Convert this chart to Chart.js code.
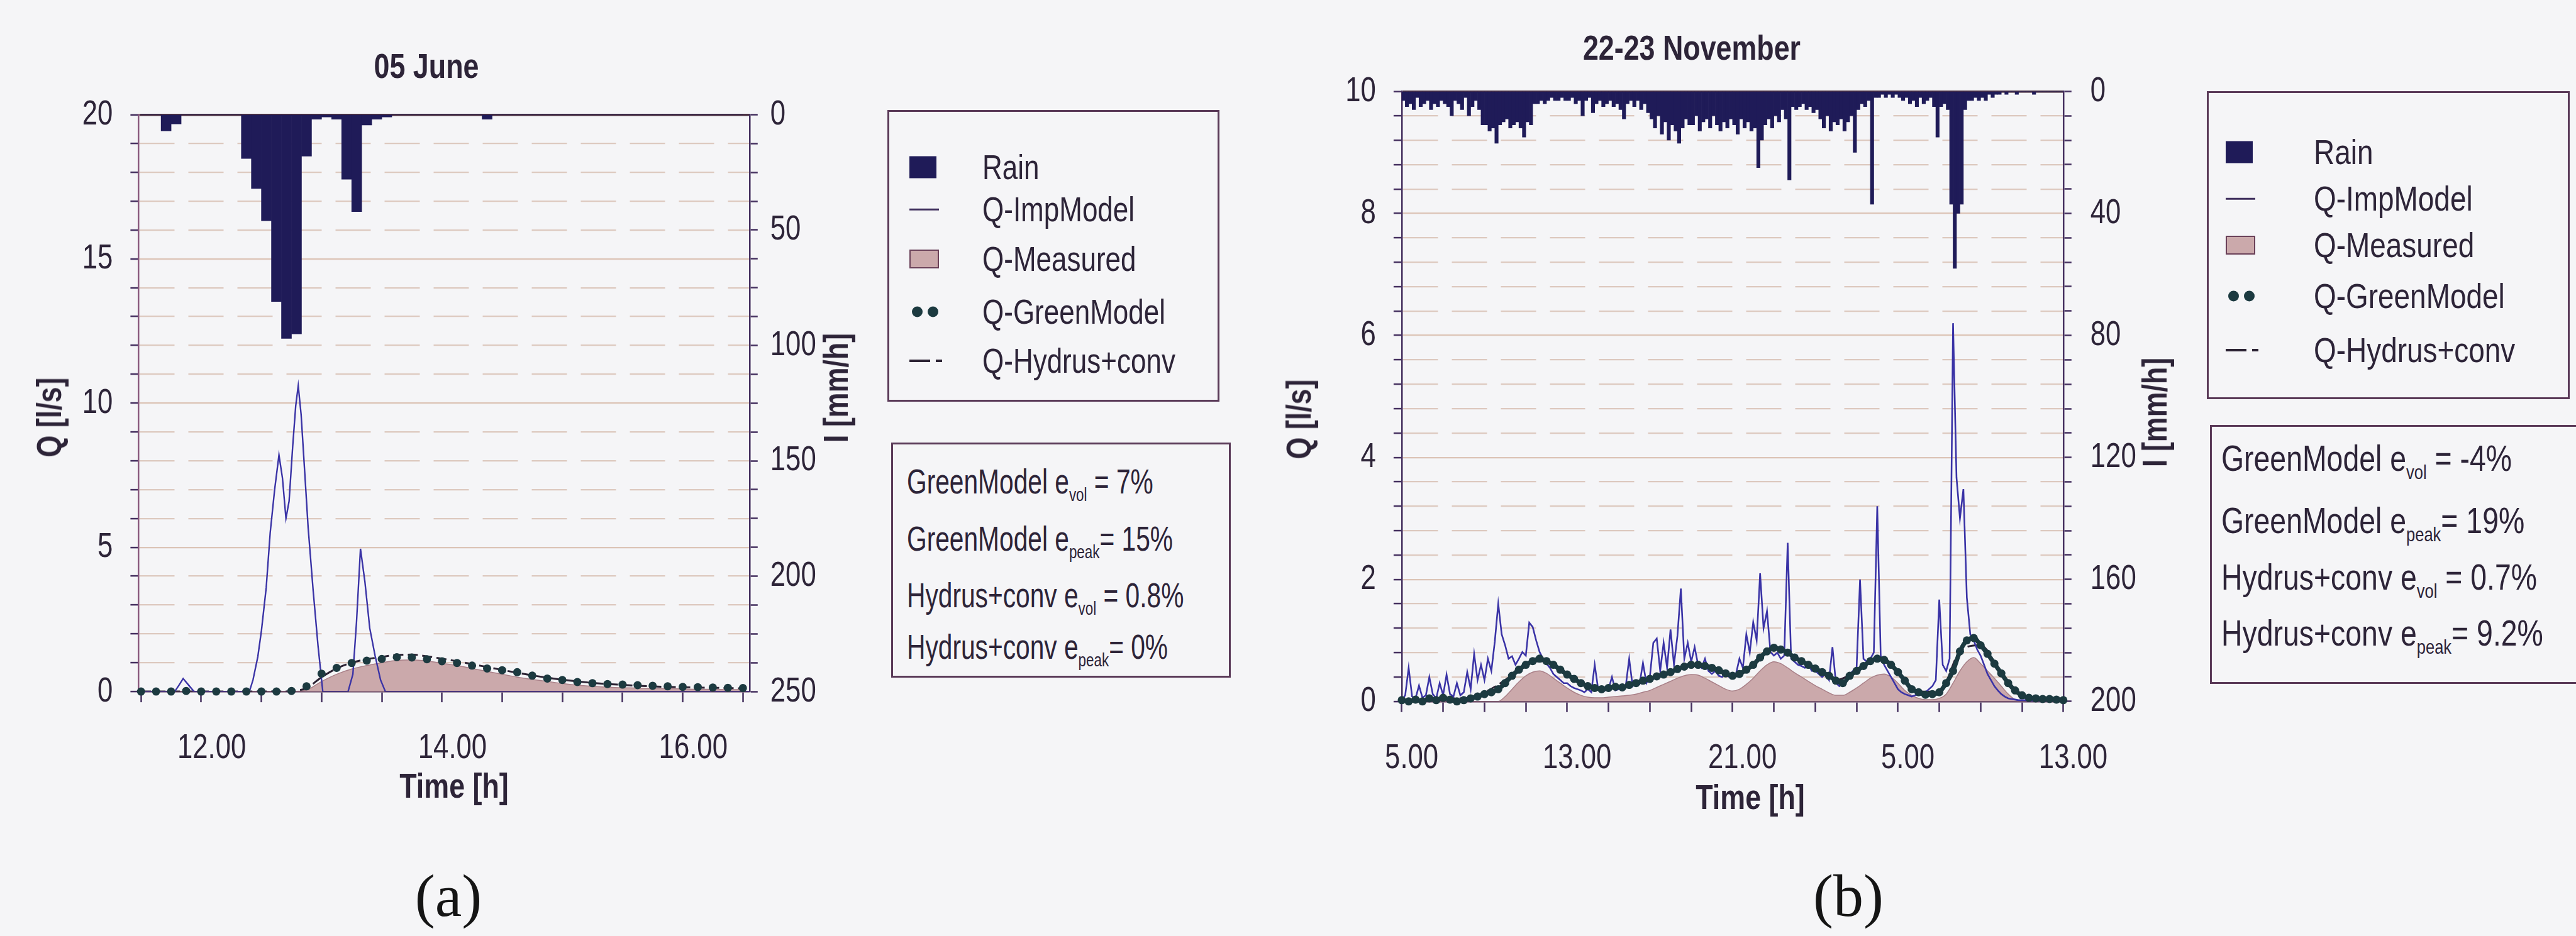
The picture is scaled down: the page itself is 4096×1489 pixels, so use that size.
<!DOCTYPE html>
<html>
<head>
<meta charset="utf-8">
<title>Runoff events</title>
<script src="https://cdn.jsdelivr.net/npm/chart.js@4.4.1/dist/chart.umd.min.js"></script>
<style>
  html, body { margin: 0; padding: 0; }
  body {
    width: 4096px; height: 1489px; background: #f5f5f7; position: relative; overflow: hidden;
    font-family: 'Liberation Sans', Arial, sans-serif; color: #2d2438;
  }
  canvas { position: absolute; top: 0; }
  .lbl { position: absolute; white-space: nowrap; line-height: 1; transform: translate(-50%, -50%) scaleX(0.8); }
  .bold { font-weight: bold; }
  .rot { transform: translate(-50%, -50%) rotate(-90deg) scaleX(0.8); }
  .tag { font-family: 'Liberation Serif', 'Times New Roman', serif; font-size: 96px; color: #151515;
         transform: translate(-50%, -50%); }
  .box { position: absolute; border: 3.5px solid #5a3a58; box-sizing: border-box; }
  .row { position: absolute; white-space: nowrap; line-height: 1; transform-origin: 0 50%; }
  .sw { position: absolute; transform: translateY(-50%); }
  sub { font-size: 55%; vertical-align: -0.4em; line-height: 0; }
</style>
</head>
<body>
<canvas id="chartA" width="1400" height="1330" style="left:0px"></canvas>
<canvas id="chartB" width="1420" height="1330" style="left:2000px"></canvas>
<script>
// ---------- panel (a): 05 June ----------
// rain intensity [mm/h], 5-min intervals starting 11:30
const rainStartA = 11.5;
const rainA = [
  0, 0, 7, 4, 0, 0,
  0, 0, 0, 0, 19, 32, 46, 81, 97, 95, 18, 2,
  1, 2, 28, 42, 4.5, 2, 1, 0, 0, 0, 0, 0,
  0, 0, 0, 0, 2, 0, 0, 0, 0, 0, 0, 0,
  0, 0, 0, 0, 0, 0, 0, 0, 0, 0, 0, 0,
  0, 0, 0, 0, 0, 0
];
// flows [l/s], 7.5-min samples starting 11:30
const flowStartA = 11.5;
const greenA = [
  0, 0, 0, 0.02, 0, 0, 0, 0, 0, 0, 0.02, 0.18,
  0.62, 0.82, 0.99, 1.07, 1.13, 1.19, 1.18, 1.12,
  1.05, 0.99, 0.9, 0.8, 0.74, 0.67, 0.55, 0.45,
  0.4, 0.33, 0.29, 0.26, 0.24, 0.22, 0.2, 0.18,
  0.16, 0.15, 0.14, 0.13, 0.12
];
const measuredA = [
  0, 0, 0, 0, 0, 0, 0, 0, 0, 0, 0, 0.05,
  0.35, 0.6, 0.78, 0.9, 1.0, 1.08, 1.1, 1.06,
  0.98, 0.9, 0.8, 0.7, 0.6, 0.5, 0.42, 0.35,
  0.28, 0.22, 0.18, 0.15, 0.13, 0.12, 0.1, 0.1,
  0.09, 0.08, 0.08, 0.07, 0.07
];
const hydrusA = [
  0, 0, 0, 0, 0, 0, 0, 0, 0, 0, 0.02, 0.12,
  0.5, 0.8, 1.0, 1.12, 1.2, 1.27, 1.28, 1.22,
  1.14, 1.05, 0.95, 0.85, 0.75, 0.65, 0.56, 0.48,
  0.41, 0.35, 0.3, 0.26, 0.23, 0.2, 0.18, 0.16,
  0.15, 0.14, 0.13, 0.12, 0.11
];
// impervious model, irregular time steps [h]
const impTimeA = [11.48, 11.78, 11.82, 11.85, 11.89, 11.94, 12.40, 12.43, 12.47, 12.50,
  12.54, 12.573, 12.61, 12.646, 12.675, 12.704, 12.73, 12.76, 12.785, 12.806, 12.83, 12.86,
  12.888, 12.93, 12.97, 13.01, 13.22, 13.26, 13.29, 13.323, 13.36, 13.40, 13.444, 13.49, 13.53, 16.555];
const impA = [0, 0, 0.25, 0.45, 0.25, 0, 0, 0.4, 1.2, 2.1,
  3.6, 5.5, 7.0, 8.2, 7.4, 6.0, 6.6, 8.5, 9.9, 10.6, 9.6, 7.6,
  5.7, 3.5, 1.6, 0, 0, 0.6, 2.4, 4.95, 3.8, 2.2, 1.25, 0.4, 0, 0];
const xTicksA = [11.5, 12, 12.5, 13, 13.5, 14, 14.5, 15, 15.5, 16, 16.5];
const xLabelsA = ['', '12.00', '', '', '', '14.00', '', '', '', '16.00', ''];
const qLabelsA = [0, 5, 10, 15, 20];
const iLabelsA = [0, 50, 100, 150, 200, 250];

// ---------- panel (b): 22-23 November (hours counted from 00:00 on the 22nd) ----------
// rain intensity [mm/h], 10-min intervals starting 05:00
const rainStartB = 5;
const rainB = [
  3, 5, 4, 6, 2, 5, 4, 3, 6, 4, 5, 3,
  4, 5, 8, 3, 4, 6, 2, 8, 5, 3, 6, 11,
  11, 13, 12, 17, 11, 10, 9, 12, 11, 10, 12, 15,
  10, 11, 4, 4, 3, 4, 3, 2, 3, 3, 2, 3,
  3, 2, 4, 3, 8, 3, 2, 7, 4, 3, 5, 4,
  3, 5, 4, 6, 9, 4, 3, 5, 3, 6, 4, 7,
  9, 12, 8, 14, 10, 16, 11, 13, 17, 12, 9, 11,
  11, 8, 13, 10, 9, 12, 8, 11, 13, 10, 12, 9,
  11, 14, 9, 12, 10, 13, 12, 25, 16, 11, 9, 12,
  8, 10, 6, 9, 29, 5, 6, 5, 4, 6, 5, 7,
  6, 9, 12, 8, 13, 10, 11, 9, 13, 10, 8, 20,
  6, 4, 5, 3, 37, 2, 2, 1, 2, 1, 2, 1,
  2, 3, 2, 4, 3, 5, 2, 4, 3, 2, 5, 15,
  5, 4, 6, 37, 58, 40, 37, 6, 3, 3, 2, 3,
  2, 3, 1, 2, 1, 1, 0, 1, 0, 0, 1, 0,
  0, 0, 0, 1, 0, 0, 0, 0, 0, 0, 0, 0
];
// impervious model [l/s], 10-min samples starting 05:00
const impStartB = 5;
const impB = [
  0.02, 0.1, 0.55, 0.08, 0.05, 0.26, 0.06, 0.1, 0.4, 0.12, 0.05, 0.3,
  0.1, 0.44, 0.12, 0.08, 0.3, 0.1, 0.15, 0.48, 0.2, 0.78, 0.35, 0.6,
  0.35, 0.7, 0.5, 0.98, 1.6, 1.1, 0.92, 0.7, 0.74, 0.6, 0.7, 0.81,
  0.75, 1.29, 1.22, 1.0, 0.81, 0.7, 0.62, 0.55, 0.45, 0.4, 0.35, 0.3,
  0.3, 0.25, 0.22, 0.2, 0.18, 0.15, 0.2, 0.15, 0.6, 0.2, 0.15, 0.18,
  0.2, 0.4, 0.18, 0.2, 0.22, 0.25, 0.7, 0.25, 0.3, 0.28, 0.63, 0.3,
  0.4, 0.96, 1.03, 0.5, 0.96, 0.55, 1.18, 0.6, 1.07, 1.85, 0.7, 0.96,
  0.65, 0.89, 0.6, 0.55, 0.7, 0.5, 0.45, 0.5, 0.42, 0.4, 0.48, 0.4,
  0.4, 0.45, 0.7, 0.55, 1.1, 0.8, 1.3, 1.0, 2.1, 1.2, 1.48, 0.81,
  0.75, 0.8, 0.7, 0.75, 2.6, 0.7, 0.65, 0.6, 0.58, 0.55, 0.6, 0.5,
  0.5, 0.45, 0.4, 0.45, 0.35, 0.89, 0.3, 0.25, 0.3, 0.35, 0.45, 0.5,
  0.55, 2.0, 0.7, 0.65, 0.7, 0.8, 3.2, 0.75, 0.6, 0.5, 0.4, 0.3,
  0.2, 0.15, 0.12, 0.1, 0.08, 0.1, 0.12, 0.1, 0.15, 0.2, 0.25, 0.35,
  1.67, 0.6, 0.5, 0.7, 6.2, 3.67, 3.0, 3.48, 1.7, 1.1, 1.0, 0.85,
  0.75, 0.6, 0.45, 0.35, 0.25, 0.18, 0.12, 0.08, 0.05, 0.04, 0.03, 0.02,
  0.02, 0.02, 0.01, 0.01, 0, 0, 0, 0, 0, 0, 0, 0,
  0
];
// green-roof model and measured flow [l/s], 20-min samples starting 05:00
const flowStartB = 5;
const greenB = [
  0.02, 0, 0.03, 0, 0.05, 0.02, 0.06, 0.03, 0, 0.02, 0.05, 0.08,
  0.12, 0.15, 0.2, 0.3, 0.42, 0.52, 0.6, 0.66, 0.7, 0.66, 0.6, 0.52,
  0.44, 0.37, 0.3, 0.25, 0.22, 0.2, 0.22, 0.24, 0.23, 0.27, 0.3, 0.34,
  0.37, 0.41, 0.44, 0.48, 0.53, 0.57, 0.6, 0.6, 0.58, 0.55, 0.51, 0.46,
  0.42, 0.45, 0.52, 0.6, 0.72, 0.82, 0.88, 0.85, 0.8, 0.72, 0.66, 0.6,
  0.54, 0.48, 0.42, 0.34, 0.3, 0.42, 0.5, 0.58, 0.66, 0.7, 0.68, 0.6,
  0.48, 0.34, 0.2, 0.15, 0.11, 0.12, 0.15, 0.3, 0.5, 0.82, 1.0, 1.04,
  0.92, 0.78, 0.62, 0.46, 0.3, 0.18, 0.1, 0.06, 0.05, 0.04, 0.04, 0.03,
  0.02
];
const measuredB = [
  0, 0, 0, 0, 0, 0, 0, 0, 0, 0, 0, 0,
  0, 0, 0, 0.08, 0.2, 0.32, 0.42, 0.48, 0.5, 0.46, 0.38, 0.3,
  0.22, 0.15, 0.1, 0.07, 0.06, 0.06, 0.07, 0.08, 0.09, 0.1, 0.12, 0.15,
  0.18, 0.23, 0.28, 0.33, 0.38, 0.42, 0.44, 0.43, 0.38, 0.32, 0.26, 0.2,
  0.17, 0.2, 0.28, 0.38, 0.5, 0.6, 0.65, 0.62, 0.55, 0.47, 0.4, 0.33,
  0.26, 0.2, 0.14, 0.1, 0.1, 0.15, 0.22, 0.3, 0.38, 0.43, 0.45, 0.4,
  0.3, 0.18, 0.1, 0.05, 0.03, 0.03, 0.05, 0.12, 0.3, 0.5, 0.65, 0.72,
  0.62, 0.5, 0.38, 0.25, 0.12, 0.03, 0, 0, 0, 0, 0, 0,
  0
];
// Hydrus + convolution [l/s], hourly from 05:00
const hydrusStartB = 5;
const hydrusB = [0.02, 0.03, 0.05, 0.05, 0.15, 0.35, 0.62, 0.66, 0.45, 0.27, 0.22, 0.27,
  0.38, 0.5, 0.6, 0.55, 0.44, 0.62, 0.88, 0.72, 0.55, 0.35, 0.5, 0.7,
  0.48, 0.16, 0.16, 0.82, 0.92, 0.46, 0.1, 0.04, 0.02];
const xTicksB = [5, 7, 9, 11, 13, 15, 17, 19, 21, 23, 25, 27, 29, 31, 33, 35, 37];
const xLabelsB = ['5.00', '', '', '', '13.00', '', '', '', '21.00', '', '', '', '5.00', '', '', '', '13.00'];
const qLabelsB = [0, 2, 4, 6, 8, 10];
const iLabelsB = [0, 40, 80, 120, 160, 200];

const legendItems = ['Rain', 'Q-ImpModel', 'Q-Measured', 'Q-GreenModel', 'Q-Hydrus+conv'];
const statsA = [['GreenModel e', 'vol', ' = 7%'], ['GreenModel e', 'peak', '= 15%'],
  ['Hydrus+conv e', 'vol', ' = 0.8%'], ['Hydrus+conv e', 'peak', '= 0%']];
const statsB = [['GreenModel e', 'vol', ' = -4%'], ['GreenModel e', 'peak', '= 19%'],
  ['Hydrus+conv e', 'vol', ' = 0.7%'], ['Hydrus+conv e', 'peak', '= 9.2%']];

// ---------- styling ----------
const FONT = "'Liberation Sans', Arial, sans-serif";
const TEXT = '#2d2438';
const RAIN = '#1f1b58';
const IMP = '#3a33a6';
const DOT = '#1c3a40';
const MEAS_FILL = '#cba9ab';
const MEAS_LINE = '#a98088';
const HYD = '#2b2233';
const GRID_MAJOR = '#dcc4b6';
const GRID_MINOR = '#ddc9bf';
const AXIS = '#45305f';
const TOP_LINE = '#4a3042';
const TICK_FONT = { family: FONT, size: 56 };

Chart.defaults.font.family = FONT;
Chart.defaults.color = TEXT;

// narrow lettering: squeeze canvas text horizontally around its anchor point
function condense(canvas, k) {
  const ctx = canvas.getContext('2d');
  const fill = ctx.fillText;
  ctx.fillText = function (text, x, y) {
    this.save();
    this.translate(x, y);
    this.scale(k, 1);
    fill.call(this, text, 0, 0);
    this.restore();
  };
  return canvas;
}

const series = (start, step, values) => values.map((v, i) => ({ x: start + i * step, y: v }));
const pairs = (xs, ys) => xs.map((x, i) => ({ x: x, y: ys[i] }));

function qAxis(max, step, labels, width, axisColor) {
  const n = Math.round(max / step);
  return {
    position: 'left', min: 0, max: max,
    afterBuildTicks: s => {
      s.ticks = [];
      for (let i = 0; i <= n; i++) s.ticks.push({ value: Math.round(i * step * 10) / 10 });
    },
    afterFit: s => { s.width = width; },
    ticks: { autoSkip: false, padding: 28, font: TICK_FONT, color: TEXT,
             callback: v => labels.includes(v) ? String(v) : '' },
    grid: {
      color: c => c.tick.value === max ? TOP_LINE : c.tick.value === 0 ? 'rgba(0,0,0,0)'
        : labels.includes(c.tick.value) ? GRID_MAJOR : GRID_MINOR,
      lineWidth: c => c.tick.value === max ? 3.5 : 2.2,
      tickLength: 13, tickWidth: 2.5, tickColor: AXIS
    },
    border: { color: axisColor, width: 2.5, dash: c => (c.tick && !labels.includes(c.tick.value)) ? [56, 22] : [] }
  };
}

function iAxis(max, step, labels, width, pad) {
  const n = Math.round(max / step);
  return {
    position: 'right', reverse: true, min: 0, max: max,
    afterBuildTicks: s => {
      s.ticks = [];
      for (let i = 0; i <= n; i++) s.ticks.push({ value: Math.round(i * step * 10) / 10 });
    },
    afterFit: s => { s.width = width; },
    ticks: { autoSkip: false, padding: pad, font: TICK_FONT, color: TEXT,
             callback: v => labels.includes(v) ? String(v) : '' },
    grid: { drawOnChartArea: false, tickLength: 13, tickWidth: 2.5, tickColor: AXIS },
    border: { color: AXIS, width: 2.5 }
  };
}

function xAxis(min, max, ticks, labels, height, offset) {
  return {
    type: 'linear', min: min, max: max, offset: false,
    afterBuildTicks: s => { s.ticks = ticks.map(v => ({ value: v })); },
    afterFit: s => { s.height = height; },
    ticks: { autoSkip: false, maxRotation: 0, minRotation: 0, labelOffset: offset, padding: 40,
             font: TICK_FONT, color: TEXT, callback: (v, i) => labels[i] },
    grid: { drawOnChartArea: false, offset: false, tickLength: 17, tickWidth: 2.5, tickColor: AXIS },
    border: { color: '#5a3a5a', width: 2.5 }
  };
}

function datasets(rain, imp, impW, green, chain, measured, hydrus) {
  return [
    { type: 'bar', label: 'Rain', data: rain, yAxisID: 'yR', backgroundColor: RAIN,
      barPercentage: 1, categoryPercentage: 1, borderWidth: 0, order: 1 },
    { type: 'line', label: 'Q-GreenModel', data: green, yAxisID: 'y', showLine: chain > 0,
      borderColor: DOT, borderWidth: chain, cubicInterpolationMode: 'monotone',
      pointRadius: 6.5, pointBackgroundColor: DOT, pointBorderWidth: 0, clip: false, order: 2 },
    { type: 'line', label: 'Q-ImpModel', data: imp, yAxisID: 'y', borderColor: IMP, borderWidth: impW,
      pointRadius: 0, tension: 0, order: 3 },
    { type: 'line', label: 'Q-Hydrus+conv', data: hydrus, yAxisID: 'y', borderColor: HYD, borderWidth: 3,
      borderDash: [16, 7], pointRadius: 0, cubicInterpolationMode: 'monotone', order: 4 },
    { type: 'line', label: 'Q-Measured', data: measured, yAxisID: 'y', fill: 'origin',
      backgroundColor: MEAS_FILL, borderColor: MEAS_LINE, borderWidth: 1.5, pointRadius: 0,
      cubicInterpolationMode: 'monotone', order: 5 }
  ];
}

const baseOptions = (top, scales) => ({
  responsive: false, animation: false, devicePixelRatio: 1,
  layout: { padding: { top: top, left: 0, right: 0, bottom: 0 } },
  plugins: { legend: { display: false }, tooltip: { enabled: false }, title: { display: false } },
  scales: scales
});

new Chart(condense(document.getElementById('chartA'), 0.78), {
  type: 'line',
  data: {
    datasets: datasets(
      series(rainStartA + 2.5 / 60, 5 / 60, rainA),
      pairs(impTimeA, impA), 2.4,
      series(flowStartA, 0.125, greenA), 0,
      series(flowStartA, 0.125, measuredA),
      series(flowStartA, 0.125, hydrusA))
  },
  options: baseOptions(182.4, {
    x: xAxis(11.48, 16.555, xTicksA, xLabelsA, 229.9, 16.7),
    y: qAxis(20, 1, qLabelsA, 220.4, '#8a5a7e'),
    yR: iAxis(250, 12.5, iLabelsA, 208.2, 20)
  })
});

new Chart(condense(document.getElementById('chartB'), 0.78), {
  type: 'line',
  data: {
    datasets: datasets(
      series(rainStartB + 5 / 60, 10 / 60, rainB),
      series(impStartB, 10 / 60, impB), 2.6,
      series(flowStartB, 1 / 3, greenB), 7,
      series(flowStartB, 1 / 3, measuredB),
      series(hydrusStartB, 1, hydrusB))
  },
  options: baseOptions(145.4, {
    x: xAxis(5, 37, xTicksB, xLabelsB, 214.2, 15.7),
    y: qAxis(10, 0.4, qLabelsB, 228.9, AXIS),
    yR: iAxis(200, 8, iLabelsB, 139.2, 30)
  })
});

// ---------- titles, axis names, legends ----------
function label(text, x, y, cls, size) {
  const d = document.createElement('div');
  d.className = 'lbl ' + (cls || '');
  d.style.left = x + 'px'; d.style.top = y + 'px';
  if (size) d.style.fontSize = size + 'px';
  d.textContent = text;
  document.body.appendChild(d);
  return d;
}
label('05 June', 678, 105, 'bold', 56);
label('Q [l/s]', 78, 664, 'bold rot', 56);
label('I [mm/h]', 1329, 617, 'bold rot', 56);
label('Time [h]', 722, 1250, 'bold', 56);
label('(a)', 713, 1425, 'tag');
label('22-23 November', 2690, 76, 'bold', 56);
label('Q [l/s]', 2065, 667, 'bold rot', 56);
label('I [mm/h]', 3426, 656, 'bold rot', 56);
label('Time [h]', 2783, 1268, 'bold', 56);
label('(b)', 2939, 1425, 'tag');

function box(left, top, w, h) {
  const d = document.createElement('div');
  d.className = 'box';
  Object.assign(d.style, { left: left + 'px', top: top + 'px', width: w + 'px', height: h + 'px' });
  document.body.appendChild(d);
}
function el(html, left, top, cls, css) {
  const d = document.createElement('div');
  d.className = cls;
  d.style.left = left + 'px'; d.style.top = top + 'px';
  if (css) Object.assign(d.style, css);
  d.innerHTML = html;
  document.body.appendChild(d);
}
function swatch(i, x, y) {
  if (i === 0) el('', x, y, 'sw', { width: '43px', height: '35px', background: RAIN });
  if (i === 1) el('', x, y, 'sw', { width: '47px', height: '2.5px', background: '#40305e' });
  if (i === 2) el('', x, y, 'sw', { width: '47px', height: '30px', background: MEAS_FILL,
                                   border: '2.5px solid #6a4058', boxSizing: 'border-box' });
  if (i === 3) {
    el('', x + 4, y, 'sw', { width: '17px', height: '17px', borderRadius: '50%', background: DOT });
    el('', x + 29, y, 'sw', { width: '17px', height: '17px', borderRadius: '50%', background: DOT });
  }
  if (i === 4) {
    el('', x, y, 'sw', { width: '33px', height: '4px', background: HYD });
    el('', x + 42, y, 'sw', { width: '10px', height: '4px', background: HYD });
  }
}
function textRow(html, x, y, size, k) {
  el(html, x, y, 'row', { fontSize: size + 'px', transform: 'translateY(-50%) scaleX(' + k + ')' });
}
function legend(left, top, w, h, rows, swX, txX, size, k) {
  box(left, top, w, h);
  rows.forEach((y, i) => {
    swatch(i, swX, y);
    textRow(legendItems[i], txX, y, size, k);
  });
}
function stats(left, top, w, h, rows, txX, lines, size, k) {
  box(left, top, w, h);
  rows.forEach((y, i) => {
    const [a, s, b] = lines[i];
    textRow(a + '<sub>' + s + '</sub>' + b, txX, y, size, k);
  });
}
legend(1411, 175, 528, 464, [266, 333, 412, 496, 574], 1446, 1562, 55, 0.8);
stats(1417, 704, 540, 374, [766, 857, 947, 1029], 1442, statsA, 55, 0.74);
legend(3509, 145, 577, 490, [242, 316, 390, 471, 557], 3539, 3679, 56, 0.82);
stats(3514, 676, 600, 412, [729, 828, 918, 1007], 3532, statsB, 58, 0.8);
</script>
</body>
</html>
